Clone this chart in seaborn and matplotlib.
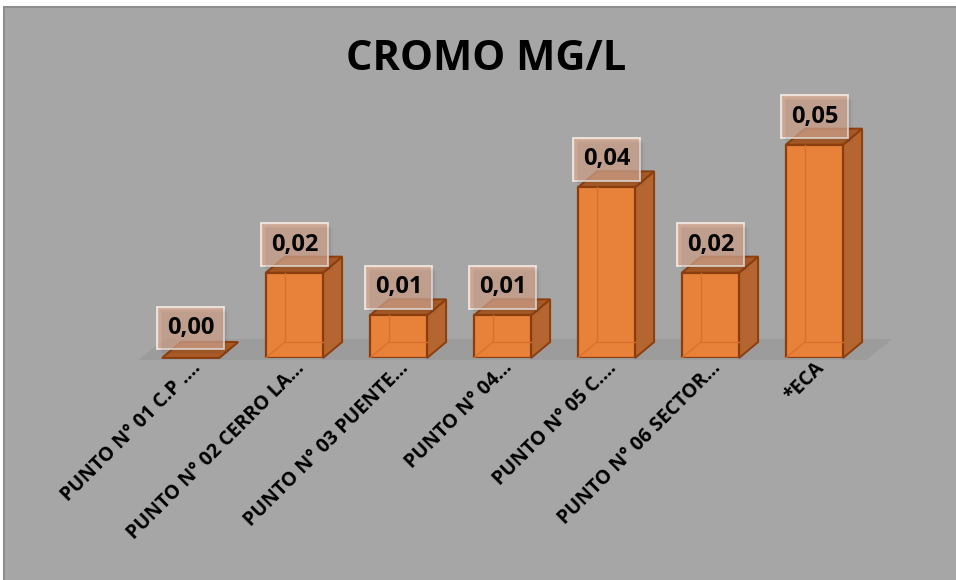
import matplotlib
matplotlib.use("Agg")
import matplotlib.pyplot as plt
import seaborn as sns
import pandas as pd
from matplotlib.patches import Polygon, Rectangle
from matplotlib.transforms import offset_copy, IdentityTransform

# Puntos de muestreo y concentración de cromo (mg/L)
puntos = [
    "PUNTO N° 01 C.P .…",
    "PUNTO N° 02 CERRO LA…",
    "PUNTO N° 03 PUENTE…",
    "PUNTO N° 04…",
    "PUNTO N° 05 C.…",
    "PUNTO N° 06 SECTOR…",
    "*ECA",
]
cromo = [0.00, 0.02, 0.01, 0.01, 0.04, 0.02, 0.05]
titulo = "CROMO MG/L"

FRONT = "#E8823A"
SIDE = "#B5652F"
TOP = "#A95A27"
EDGE = "#8A3E0E"
INNER = "#D86F2A"
BG = "#A6A6A6"
FLOOR = "#9C9C9C"

sns.set_theme(style="white")
plt.rcParams["font.family"] = ["Open Sans", "DejaVu Sans"]

W, H = 956, 580
fig = plt.figure(figsize=(W / 100, H / 100), dpi=100)
fig.patch.set_facecolor("white")
fig.patches.append(Rectangle((4 / W, -0.01), 1.0, (H - 7) / H + 0.01,
                             transform=fig.transFigure, facecolor=BG,
                             edgecolor="#8E8E8E", linewidth=1.5, zorder=-5))

ax = fig.add_axes([138.5 / W, 222 / H, 728 / W, 256 / H])
ax.patch.set_alpha(0)

df = pd.DataFrame({"punto": puntos, "cromo": cromo})
sns.barplot(data=df, x="punto", y="cromo", ax=ax, width=0.55, color=FRONT,
            saturation=1, edgecolor=EDGE, linewidth=1.6, zorder=3)
ax.set_xlim(-0.5, 6.5)
ax.set_ylim(0, 0.06)

# depth of the pseudo-3D boxes expressed in data units
px_x = (728 / 7.0)
px_y = 256 / 0.06
dx, dy = 19 / px_x, 16 / px_y

# floor slab
fdx, fdy = 26 / px_x, 21 / px_y
f0 = -2 / px_y
ax.add_patch(Polygon([(-0.5, f0), (6.5, f0), (6.5 + fdx, f0 + fdy),
                      (-0.5 + fdx, f0 + fdy)], closed=True, facecolor=FLOOR,
                     edgecolor="none", zorder=1, clip_on=False))

labels = []
for bar, val in zip(ax.patches[:len(cromo)], cromo):
    x0 = bar.get_x()
    w = bar.get_width()
    h = bar.get_height()
    x1 = x0 + w
    side = Polygon([(x1, 0), (x1 + dx, dy), (x1 + dx, h + dy), (x1, h)],
                   closed=True, facecolor=SIDE, edgecolor=EDGE, lw=1.4,
                   zorder=2.5, clip_on=False)
    top = Polygon([(x0, h), (x0 + dx, h + dy), (x1 + dx, h + dy), (x1, h)],
                  closed=True, facecolor=TOP, edgecolor=EDGE, lw=1.4,
                  zorder=2.6, clip_on=False)
    ax.add_patch(side)
    ax.add_patch(top)
    if h > 0:
        # hidden back edges seen through the translucent box
        ax.plot([x0 + dx, x0 + dx], [dy, h], color=INNER, lw=1.0, zorder=3.5)
        ax.plot([x0 + dx, x1], [dy, dy], color=INNER, lw=1.0, zorder=3.5)
        ax.plot([x0, x0 + dx], [0, dy], color=INNER, lw=1.0, zorder=3.5)
        bar.set_zorder(3)

    lbl = f"{val:.2f}".replace(".", ",")
    off = 28 if h > 0 else 30
    t = ax.annotate(lbl, xy=(x0 + w / 2, h), xytext=(0, off),
                    textcoords="offset pixels", ha="center", va="center",
                    fontsize=17, fontweight="bold", color="black", zorder=6,
                    annotation_clip=False,
                    bbox=dict(boxstyle="square,pad=0.4", facecolor=(0.9, 0.7, 0.6, 0.72),
                              edgecolor=(0.97, 0.93, 0.9, 0.9), linewidth=1.3))
    labels.append(t)

ax.set_xlabel("")
ax.set_ylabel("")
ax.set_yticks([])
ax.set_xticks(range(len(puntos)))
ax.set_xticklabels(puntos, rotation=45, ha="right", va="top",
                   rotation_mode="anchor", fontsize=14, fontweight="bold",
                   color="black")
for tl in ax.get_xticklabels():
    tl.set_transform(offset_copy(tl.get_transform(), fig=fig, x=14, y=-29, units="dots"))
ax.tick_params(axis="x", length=0, pad=0)
for s in ax.spines.values():
    s.set_visible(False)

fig.text(486 / W, 1 - 60 / H, titulo, ha="center", va="center",
         fontsize=30, fontweight="bold", color="black")

# soft drop shadows under the value boxes
fig.canvas.draw()
renderer = fig.canvas.get_renderer()
for t in labels:
    bb = t.get_bbox_patch().get_window_extent(renderer)
    for k, a in ((5, 0.035), (3.5, 0.045), (2, 0.05)):
        fig.patches.append(Rectangle((bb.x0 + k, bb.y0 - k), bb.width, bb.height,
                                     transform=IdentityTransform(),
                                     facecolor=(0.2, 0.2, 0.2, a),
                                     edgecolor="none", zorder=0.5))

fig.savefig("out.png", dpi=100, facecolor=fig.get_facecolor())
